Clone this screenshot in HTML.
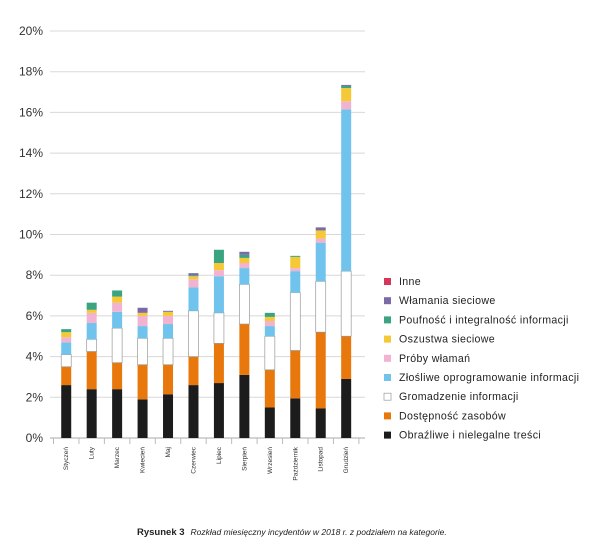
<!DOCTYPE html>
<html><head><meta charset="utf-8"><style>
body{margin:0;background:#fff;font-family:"Liberation Sans",sans-serif}
</style></head><body>
<svg id="c" width="600" height="555" xmlns="http://www.w3.org/2000/svg" font-family="Liberation Sans, sans-serif"></svg>
<script>
const categories=["Styczeń","Luty","Marzec","Kwiecień","Maj","Czerwiec","Lipiec","Sierpień","Wrzesień","Październik","Listopad","Grudzień"];
const seriesNames=["Obraźliwe i nielegalne treści","Dostępność zasobów","Gromadzenie informacji","Złośliwe oprogramowanie informacji","Próby włamań","Oszustwa sieciowe","Poufność i integralność informacji","Włamania sieciowe","Inne"];
const obrazliwe=[2.6,2.4,2.4,1.9,2.15,2.6,2.7,3.1,1.5,1.95,1.45,2.9];
const dostepnosc=[0.9,1.85,1.3,1.7,1.45,1.4,1.95,2.5,1.85,2.35,3.75,2.1];
const gromadzenie=[0.6,0.6,1.7,1.3,1.3,2.25,1.5,1.95,1.65,2.85,2.5,3.2];
const zlosliwe=[0.6,0.8,0.8,0.6,0.7,1.15,1.8,0.8,0.5,1.05,1.9,7.95];
const proby=[0.25,0.5,0.45,0.5,0.4,0.4,0.3,0.25,0.25,0.15,0.2,0.4];
const oszustwa=[0.25,0.15,0.3,0.15,0.2,0.15,0.35,0.25,0.2,0.55,0.4,0.65];
const poufnosc=[0.15,0.35,0.3,0,0,0.05,0.65,0.15,0.2,0.05,0,0.1];
const wlamania=[0,0,0,0.25,0.05,0.1,0,0.15,0,0,0.15,0.05];
const inne=[0,0,0,0,0,0,0,0,0,0,0,0];
const yTicks=[0,2,4,6,8,10,12,14,16,18,20];
const series=[obrazliwe,dostepnosc,gromadzenie,zlosliwe,proby,oszustwa,poufnosc,wlamania,inne];
const colors=["#1c1c1c","#e8780c","#ffffff","#70c3ec","#f2b3d1","#f5c935","#3aa37f","#7b6aa8","#d6365a"];
const ns="http://www.w3.org/2000/svg",svg=document.getElementById('c');
function mk(t,a,p){const e=document.createElementNS(ns,t);for(const k in a)e.setAttribute(k,a[k]);(p||svg).appendChild(e);return e;}
const y0=438,pxPer=20.35,left=53.5,band=25.45;
const y=v=>y0-v*pxPer, x=i=>left+band*i+band/2;
yTicks.forEach(t=>{
 const g=mk('line',{x1:50,x2:365,y1:y(t),y2:y(t),stroke:t===0?'#aaa':'#d8d8d8','stroke-width':1});
 
 const l=mk('text',{x:43,y:y(t)+4,'text-anchor':'end','font-size':12,fill:'#333'});
 l.textContent=t+'%';
 
});
for(let i=0;i<=categories.length;i++){const tk=mk('line',{x1:left+band*i,x2:left+band*i,y1:438,y2:444,stroke:'#bbb'});
 }
categories.forEach((c,i)=>{
 let acc=0;
 series.forEach((s,j)=>{
  const v=s[i];if(v<=0)return;
  const r=mk('rect',{x:x(i)-5,y:y(acc+v),width:10,height:v*pxPer,fill:colors[j]});
  if(j===2){r.setAttribute('stroke','#999');r.setAttribute('stroke-width','0.7');}
  
  acc+=v;
 });
 const t=mk('text',{transform:`translate(${x(i)+2},447) rotate(-90)`,'text-anchor':'end','font-size':6.5,fill:'#333'});
 t.textContent=c;
 
});
const order=[8,7,6,5,4,3,2,1,0];
order.forEach((j,k)=>{
 const yy=282+k*19.2;
 const r=mk('rect',{x:384,y:yy-4,width:7,height:7,fill:colors[j]});
 if(j===2){r.setAttribute('stroke','#999');r.setAttribute('stroke-width','0.7');}
 
 const t=mk('text',{x:399,y:yy+3,'font-size':10.6,'letter-spacing':0.35,fill:'#222'});
 t.textContent=seriesNames[j];
 
});
const cap=mk('text',{x:137,y:535,'font-size':9.5,fill:'#222'});

cap.innerHTML='<tspan font-weight="bold">Rysunek 3</tspan><tspan font-style="italic" font-size="8.5" dx="6">Rozkład miesięczny incydentów w 2018 r. z podziałem na kategorie.</tspan>';
</script>
</body></html>
